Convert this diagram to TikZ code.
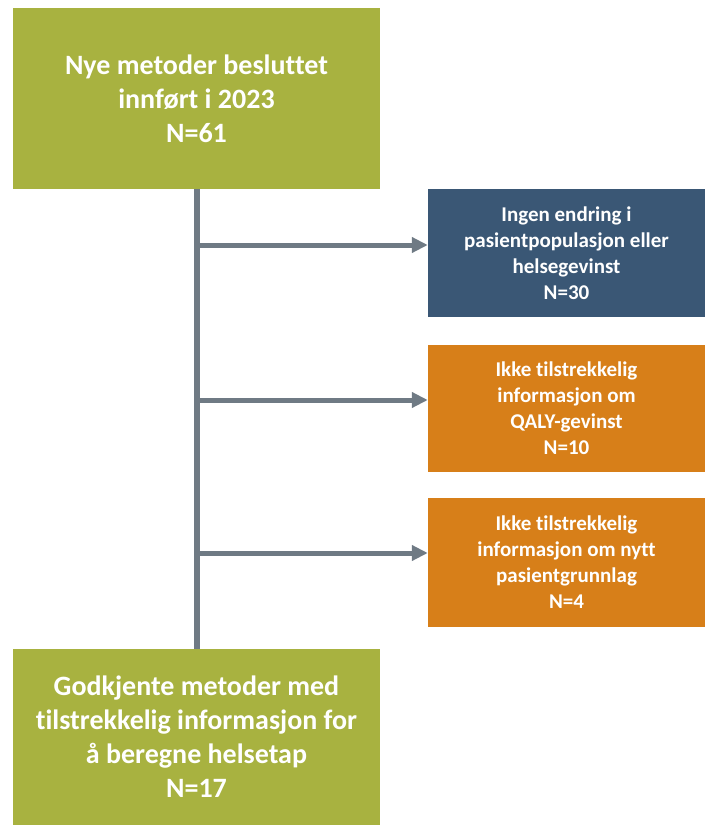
\documentclass[tikz,border=0pt]{standalone}
\usepackage{fontspec}
\setmainfont{Carlito}[Ligatures=NoCommon]
\usepackage{tikz}
\usetikzlibrary{arrows.meta,positioning,calc}

\definecolor{boxgreen}{HTML}{A8B240}
\definecolor{boxblue}{HTML}{3A5775}
\definecolor{boxorange}{HTML}{D77F19}
\definecolor{linegray}{HTML}{6F7A84}

\begin{document}
\begin{tikzpicture}[
  x=1pt, y=-1pt,
  main box/.style={rectangle, fill=boxgreen, text=white, align=center,
    minimum width=367pt, font=\bfseries\fontsize{28}{34}\selectfont},
  side box/.style={rectangle, text=white, align=center,
    minimum width=277pt, font=\bfseries\fontsize{21}{26}\selectfont},
  trunk/.style={draw=linegray, line width=5.5pt},
  branch/.style={draw=linegray, line width=5pt, -{Triangle[length=16pt,width=15pt]}}
]
  \useasboundingbox (0,0) rectangle (705,825);
  \node[main box, minimum height=181pt] (start) at (196.5, 98.5)
    {Nye metoder besluttet\\innført i 2023\\N=61};
  \node[main box, minimum height=176pt] (result) at (196.5, 737)
    {Godkjente metoder med\\tilstrekkelig informasjon for\\å beregne helsetap\\N=17};
  \node[side box, fill=boxblue, minimum height=128pt] (nochange) at (566.5, 253)
    {Ingen endring i\\pasientpopulasjon eller\\helsegevinst\\N=30};
  \node[side box, fill=boxorange, minimum height=127pt] (noqaly) at (566.5, 408.5)
    {Ikke tilstrekkelig\\informasjon om\\QALY-gevinst\\N=10};
  \node[side box, fill=boxorange, minimum height=129pt] (nobasis) at (566.5, 562.5)
    {Ikke tilstrekkelig\\informasjon om nytt\\pasientgrunnlag\\N=4};
  % split points on the trunk
  \coordinate (s1) at (197, 245);
  \coordinate (s2) at (197, 400);
  \coordinate (s3) at (197, 553);
  \draw[trunk] (start.south -| s1) -- (result.north -| s1);
  \draw[branch] (s1) -- (s1 -| nochange.west);
  \draw[branch] (s2) -- (s2 -| noqaly.west);
  \draw[branch] (s3) -- (s3 -| nobasis.west);
\end{tikzpicture}
\end{document}
